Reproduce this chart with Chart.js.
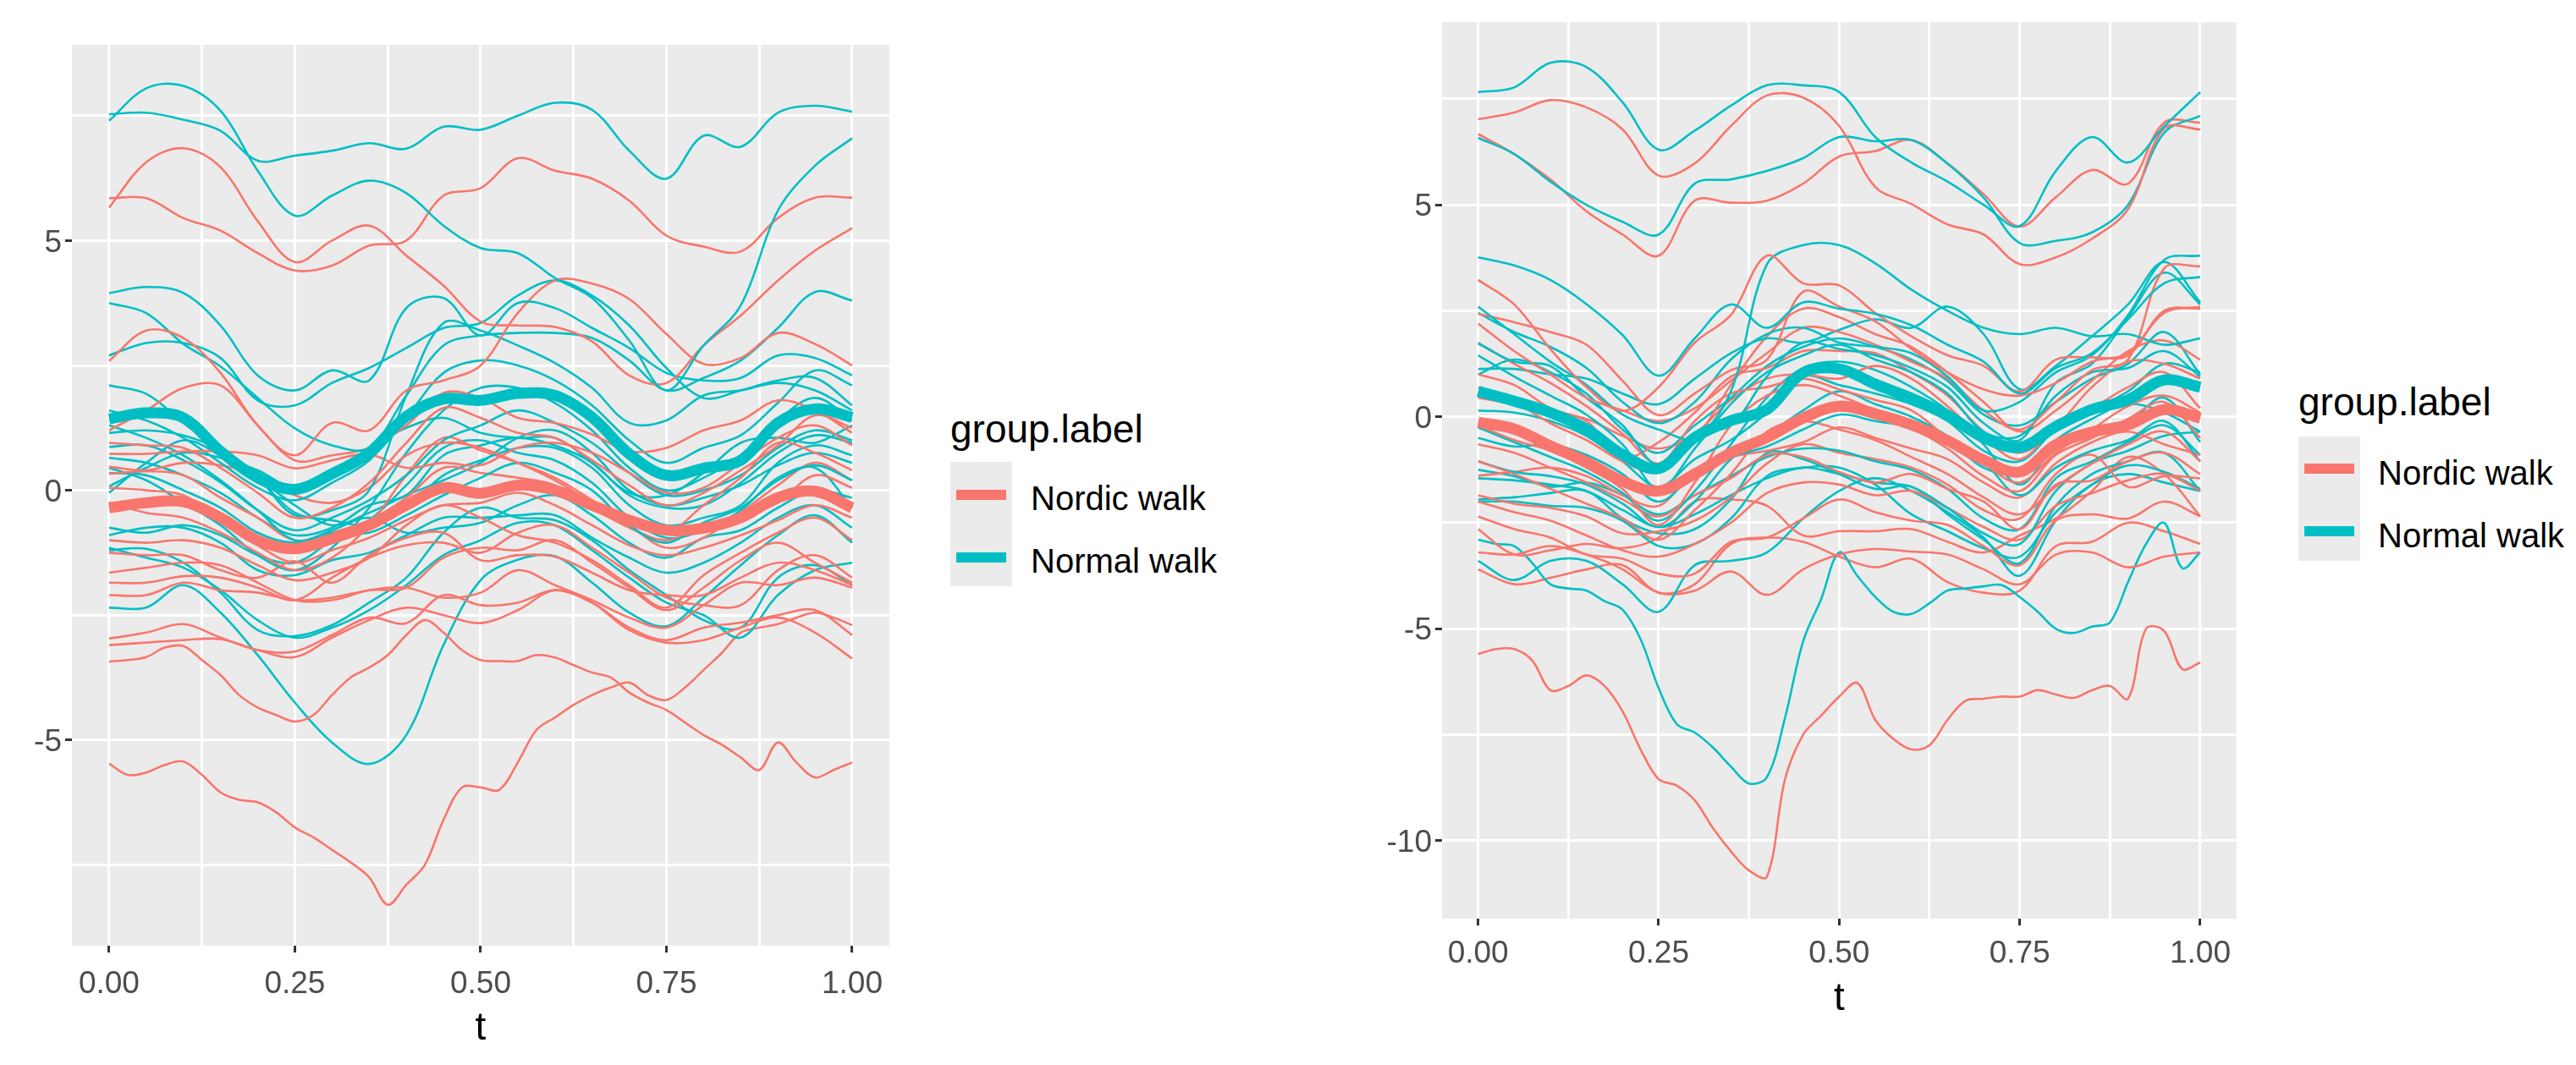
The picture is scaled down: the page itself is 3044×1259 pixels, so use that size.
<!DOCTYPE html>
<html>
<head>
<meta charset="utf-8">
<script src="https://cdn.jsdelivr.net/npm/chart.js@4"></script>
<style>
  html, body { margin: 0; padding: 0; background: #fff; }
  body { width: 3044px; height: 1259px; position: relative; overflow: hidden; font-family: "Liberation Sans", Arial, sans-serif; }
  canvas { position: absolute; top: 0; }
  .title { position: absolute; font-size: 46px; line-height: 46px; color: #000; }
  .keybox { position: absolute; width: 73px; height: 147px; background: #ebebeb; }
  .key { position: absolute; left: 7px; width: 59px; height: 12px; }
  .keytext { position: absolute; font-size: 40px; line-height: 40px; color: #000; white-space: nowrap; }
</style>
</head>
<body>
<!-- canvases are a few px wider than the panels: Chart.js keeps tick padding free at the right -->
<canvas id="leftChart" width="1059" height="1259" style="left:0"></canvas>
<canvas id="rightChart" width="1126" height="1259" style="left:1522px"></canvas>

<div class="title" style="left:1123px;top:484px">group.label</div>
<div class="keybox" style="left:1123px;top:546px">
  <div class="key" style="top:33px;background:#F8766D"></div>
  <div class="key" style="top:107px;background:#00BFC4"></div>
</div>
<div class="keytext" style="left:1218px;top:569px">Nordic walk</div>
<div class="keytext" style="left:1218px;top:643px">Normal walk</div>

<div class="title" style="left:2716px;top:452px">group.label</div>
<div class="keybox" style="left:2716px;top:516px">
  <div class="key" style="top:32px;background:#F8766D"></div>
  <div class="key" style="top:106px;background:#00BFC4"></div>
</div>
<div class="keytext" style="left:2810px;top:539px">Nordic walk</div>
<div class="keytext" style="left:2810px;top:613px">Normal walk</div>

<script>
const T = [0, 0.05, 0.1, 0.15, 0.2, 0.25, 0.3, 0.35, 0.4, 0.45, 0.5, 0.55, 0.6, 0.65, 0.7, 0.75, 0.8, 0.85, 0.9, 0.95, 1];
// sharper curves are read at twice as many points
const T_FINE = [0, 0.025, 0.05, 0.075, 0.1, 0.125, 0.15, 0.175, 0.2, 0.225, 0.25, 0.275, 0.3, 0.325, 0.35, 0.375, 0.4, 0.425, 0.45, 0.475, 0.5, 0.525, 0.55, 0.575, 0.6, 0.625, 0.65, 0.675, 0.7, 0.725, 0.75, 0.775, 0.8, 0.825, 0.85, 0.875, 0.9, 0.925, 0.95, 0.975, 1];

const X_TICKS = [0, 0.125, 0.25, 0.375, 0.5, 0.625, 0.75, 0.875, 1];
const X_LABELS = { 0: '0.00', 0.25: '0.25', 0.5: '0.50', 0.75: '0.75', 1: '1.00' };
const LEFT_Y_TICKS = [-7.5, -5, -2.5, 0, 2.5, 5, 7.5];
const RIGHT_Y_TICKS = [-10, -7.5, -5, -2.5, 0, 2.5, 5, 7.5];

const leftNordicMean = [-0.35, -0.25, -0.23, -0.55, -1.0, -1.17, -0.97, -0.7, -0.3, 0.05, -0.06, 0.1, 0, -0.3, -0.6, -0.8, -0.76, -0.55, -0.15, -0.02, -0.35];
const leftNormalMean = [1.43, 1.55, 1.45, 0.78, 0.25, 0.02, 0.33, 0.75, 1.48, 1.83, 1.8, 1.94, 1.9, 1.46, 0.73, 0.3, 0.44, 0.6, 1.35, 1.63, 1.46];

const leftNordic = [
  [5.66, 6.57, 6.85, 6.47, 5.39, 4.57, 5.0, 5.3, 4.7, 4.1, 3.38, 3.3, 3.27, 2.98, 2.3, 2.15, 2.9, 3.5, 4.2, 4.8, 5.25],
  [5.85, 5.85, 5.45, 5.2, 4.75, 4.4, 4.5, 4.9, 5.0, 5.9, 6.05, 6.65, 6.4, 6.24, 5.8, 5.1, 4.88, 4.78, 5.45, 5.86, 5.86],
  [2.59, 3.2, 3.05, 2.35, 1.3, 0.7, 1.35, 1.2, 2.0, 2.2, 2.5, 3.55, 4.2, 4.14, 3.83, 3.13, 2.53, 2.65, 3.15, 2.93, 2.5],
  [1.2, 1.6, 2.05, 2.1, 1.3, 0.6, 0.7, 0.85, 1.3, 1.95, 1.85, 1.45, 1.35, 1.12, 0.78, 0.85, 1.2, 1.4, 1.8, 1.6, 1.15],
  [0.95, 0.9, 0.85, 0.45, -0.05, -0.55, -0.35, 0.15, 0.95, 1.65, 1.45, 1.15, 1.05, 0.6, 0.1, -0.3, -0.05, 0.4, 0.9, 1.5, 1.25],
  [0.73, 0.73, 0.78, 0.78, 0.7, 0.44, 0.6, 0.72, 0.45, 0.55, 0.5, 0.85, 0.95, 0.75, 0.35, -0.05, 0.05, 0.55, 1.05, 1.3, 0.9],
  [0.47, 0.4, 0.55, 0.5, 0.3, -0.1, -0.25, 0.05, 0.7, 0.95, 0.85, 0.55, 0.2, -0.25, -0.65, -0.85, -0.3, 0.25, 0.95, 0.75, 0.4],
  [0.33, 0.38, 0.3, -0.15, -0.55, -1.0, -0.85, -0.6, -0.15, 0.45, 0.35, 0.25, 0.1, -0.35, -0.75, -1.0, -0.75, -0.55, -0.25, 0.3, 0.05],
  [0.05, 0, -0.1, -0.6, -1.1, -1.45, -1.2, -0.95, -0.6, -0.3, -0.25, -0.05, -0.3, -0.7, -1.1, -1.3, -1.15, -0.9, -0.6, -0.3, -0.55],
  [-0.25, -0.45, -0.55, -0.85, -1.25, -1.6, -1.35, -0.7, 0.3, 1.05, 0.8, 0.55, 0.25, -0.2, -0.7, -1.15, -0.95, -0.45, 0.1, 0.55, 0.2],
  [-1.0, -1.05, -1.0, -1.15, -1.5, -1.8, -1.65, -1.35, -0.7, -0.3, -0.55, -0.9, -1.05, -1.4, -1.9, -2.35, -1.7, -1.25, -0.85, -0.55, -1.0],
  [-1.25, -1.3, -1.3, -1.6, -1.75, -1.42, -1.85, -1.3, -0.95, -0.85, -1.4, -1.3, -1.33, -1.65, -2.0, -2.1, -2.1, -1.75, -1.45, -1.6, -1.9],
  [-1.65, -1.55, -1.45, -1.5, -1.85, -2.2, -2.2, -2.0, -1.95, -2.15, -2.05, -1.6, -1.9, -2.2, -2.55, -2.75, -2.3, -1.85, -1.9, -1.75, -1.95],
  [-1.85, -1.85, -1.72, -1.75, -1.95, -2.2, -1.75, -1.35, -1.1, -1.05, -1.25, -0.85, -0.7, -1.15, -1.65, -2.15, -2.3, -2.3, -1.6, -1.3, -1.75],
  [-2.1, -2.1, -1.85, -2.0, -2.05, -2.2, -2.15, -2.0, -1.95, -1.35, -1.15, -1.2, -1.0, -1.45, -1.95, -2.4, -1.95, -1.4, -1.05, -1.45, -1.85],
  [-2.97, -2.85, -2.68, -2.95, -3.2, -3.23, -2.9, -2.55, -2.66, -2.1, -2.3, -2.25, -2.0, -2.25, -2.75, -3.0, -2.75, -2.65, -2.5, -2.4, -2.9],
  [-3.1, -3.05, -3.0, -2.98, -3.2, -3.34, -2.95, -2.6, -2.35, -2.5, -2.66, -2.4, -2.0, -2.25, -2.8, -3.05, -3.0, -2.75, -2.55, -2.85, -3.37],
  [-3.43, -3.4, -3.34, -3.15, -3.12, -3.4, -3.7, -4.1, -4.35, -4.5, -4.63, -4.5, -4.1, -3.75, -3.55, -3.3, -2.9, -2.6, -2.85, -3.2, -3.4, -3.42, -3.42, -3.3, -3.35, -3.5, -3.65, -3.75, -4.05, -4.25, -4.4, -4.65, -4.9, -5.1, -5.35, -5.6, -5.05, -5.45, -5.75, -5.6, -5.45],
  [-5.47, -5.7, -5.65, -5.5, -5.43, -5.7, -6.05, -6.2, -6.25, -6.45, -6.75, -6.95, -7.2, -7.45, -7.75, -8.3, -7.9, -7.5, -6.6, -5.95, -5.95, -6.0, -5.45, -4.8, -4.55, -4.3, -4.1, -3.95, -3.85, -4.1, -4.2, -3.95, -3.6, -3.25, -2.85, -2.75, -2.68, -2.55, -2.45, -2.55, -2.7],
];

const leftNormal = [
  [7.4, 8.05, 8.1, 7.6, 6.4, 5.5, 5.9, 6.2, 5.95, 5.3, 4.85, 4.75, 4.25, 3.85, 3.0, 2.0, 2.9, 3.7, 5.6, 6.5, 7.05],
  [7.53, 7.56, 7.42, 7.2, 6.6, 6.7, 6.8, 6.95, 6.84, 7.28, 7.22, 7.5, 7.76, 7.62, 6.8, 6.24, 7.1, 6.88, 7.56, 7.7, 7.58],
  [3.95, 4.07, 3.95, 3.3, 2.3, 2.0, 2.4, 2.2, 3.65, 3.85, 3.1, 3.75, 3.65, 3.25, 2.85, 2.35, 2.2, 2.25, 2.7, 2.65, 2.3],
  [3.75, 3.55, 2.93, 2.48, 1.85, 1.24, 0.9, 0.85, 1.9, 2.9, 3.1, 3.15, 3.15, 3.05, 2.6, 2.0, 2.25, 2.6, 3.25, 3.97, 3.8],
  [2.7, 2.95, 2.95, 2.65, 1.8, 1.7, 2.15, 2.45, 2.85, 3.25, 3.35, 3.9, 4.2, 3.9, 3.3, 2.45, 1.85, 2.0, 2.2, 2.25, 1.7],
  [2.1, 1.93, 1.35, 0.8, 0.25, -0.5, -0.4, 0, 1.9, 3.35, 3.2, 2.9, 2.55, 2.05, 1.35, 1.4, 1.9, 2.0, 2.15, 2.0, 1.6],
  [1.6, 1.4, 1.05, 0.55, 0.05, -0.2, 0.15, 0.6, 1.45, 2.35, 2.6, 2.5, 2.2, 1.7, 1.0, 0.55, 0.85, 1.1, 1.75, 2.4, 2.1],
  [1.3, 1.05, 0.7, 0.2, -0.4, -1.0, -0.85, -0.85, -0.5, -0.1, 0.25, 0.55, 0.35, 0, -0.7, -1.05, -0.65, -0.35, 0.2, 0.5, 0.2],
  [1.15, 1.2, 1.1, 0.8, 0.25, -0.45, -0.6, -0.7, -0.35, 0.3, 0.6, 0.85, 0.85, 0.45, -0.3, -0.7, -0.55, -0.3, 0.55, 0.9, 0.7],
  [0.87, 0.9, 0.6, 0.16, -0.4, -0.8, -0.55, -0.2, 0.3, 1.0, 1.3, 1.6, 1.35, 0.95, 0.35, -0.1, 0, 0.3, 0.85, 1.2, 1.0],
  [0.65, 0.55, 0.3, -0.05, -0.55, -0.9, -0.75, -0.3, -0.1, 0.7, 0.9, 1.05, 0.9, 0.55, -0.1, -0.35, -0.3, 0.15, 0.75, 1.1, 0.95],
  [0.45, 0.2, -0.25, -0.7, -1.3, -1.6, -1.15, -0.35, 0.75, 1.6, 2.05, 2.05, 1.75, 1.2, 0.45, 0, 0.25, 0.7, 1.4, 1.85, 1.4],
  [0.35, 0.3, 0, -0.35, -0.85, -1.05, -0.8, -0.55, -0.85, -0.75, -0.65, -0.3, -0.1, -0.5, -1.05, -1.35, -0.95, -0.8, -0.35, 0, -0.15],
  [0.08, 0.45, 0.75, 0.65, 0.4, 0.05, 0.3, 0.85, 1.25, 1.45, 1.15, 1.05, 1.05, 0.55, -0.05, -0.1, 0.35, 0.95, 1.05, 0.95, 1.3],
  [-0.05, 0.55, 1.0, 0.7, 0.25, -0.3, -0.7, -0.45, -0.1, 0.2, 0.55, 1.05, 1.2, 0.75, 0, -0.3, -0.15, 0.1, 0.5, 0.75, 0.55],
  [-0.75, -0.85, -0.7, -0.9, -1.3, -1.45, -1.0, -0.6, 0.1, 0.85, 1.0, 0.75, 0.6, 0.15, -0.55, -0.95, -0.8, -0.4, 0.25, 0.45, -0.35],
  [-0.9, -0.75, -0.75, -1.05, -1.6, -1.7, -1.4, -1.25, -0.9, -0.55, -0.55, -0.5, -0.5, -0.95, -1.35, -1.65, -1.45, -1.05, -0.55, -0.3, -0.75],
  [-1.15, -1.35, -1.55, -2.0, -2.6, -2.95, -2.75, -2.4, -1.9, -1.3, -1.0, -0.65, -0.7, -1.2, -1.75, -2.25, -2.5, -2.95, -2.1, -1.6, -1.45],
  [-1.2, -1.17, -1.45, -2.05, -2.8, -2.92, -2.7, -2.25, -1.75, -0.85, -0.35, -0.55, -0.6, -1.0, -1.6, -2.1, -2.6, -2.75, -1.75, -1.5, -1.9],
  [-2.35, -2.35, -1.9, -2.45, -3.3, -4.25, -5.05, -5.48, -4.9, -3.1, -1.8, -1.39, -1.32, -1.85, -2.45, -2.72, -2.15, -1.5, -0.9, -0.5, -1.05],
];

const rightNordicMean = [-0.13, -0.29, -0.69, -1.06, -1.52, -1.75, -1.35, -0.85, -0.49, -0.03, 0.25, 0.07, -0.19, -0.56, -1.02, -1.3, -0.66, -0.36, -0.19, 0.17, -0.03];
const rightNormalMean = [0.6, 0.37, 0.1, -0.29, -0.89, -1.22, -0.49, -0.09, 0.17, 1.04, 1.13, 0.77, 0.44, 0.04, -0.49, -0.72, -0.23, 0.17, 0.4, 0.87, 0.7];

const rightNordic = [
  [7.02, 7.18, 7.47, 7.3, 6.78, 5.69, 5.98, 6.86, 7.58, 7.53, 6.86, 5.42, 5.02, 4.54, 4.3, 3.6, 3.76, 4.2, 4.9, 6.8, 6.78],
  [6.67, 6.2, 5.6, 4.85, 4.3, 3.8, 5.1, 5.05, 5.1, 5.5, 6.14, 6.27, 6.53, 5.98, 5.25, 4.49, 5.18, 5.82, 5.5, 6.94, 6.94],
  [3.23, 2.65, 1.6, 0.7, 0.14, 0.7, 1.75, 2.4, 3.8, 3.15, 3.1, 2.45, 1.9, 1.45, 1.2, 0.6, 1.35, 1.4, 1.45, 2.5, 2.55],
  [2.43, 2.23, 2.0, 1.7, 0.85, 0.04, 0.55, 1.1, 1.35, 2.95, 2.6, 2.25, 1.6, 1.05, 0.65, 0.5, 0.8, 1.3, 1.5, 2.45, 2.6],
  [2.2, 1.55, 1.0, 0.45, 0.15, -0.1, 0.2, 0.85, 1.5, 2.1, 2.0, 1.7, 1.3, 0.9, 0.15, -0.3, 0.35, 1.1, 1.35, 3.5, 3.55],
  [1.75, 1.25, 0.8, 0.25, -0.4, -1.1, -0.1, 0.55, 0.7, 0.9, 0.65, 0.4, 0.15, -0.5, -1.1, -1.55, -0.85, -0.3, 0.25, 0.5, 0.1],
  [1.0, 0.75, 0.2, -0.1, -0.95, -0.6, 0.1, 0.95, 1.15, 1.55, 1.55, 1.5, 1.05, 0.5, -0.35, -0.85, -0.25, 0.7, 1.3, 1.25, 0.9],
  [0.7, 0.35, -0.15, -0.55, -1.05, -1.3, -0.55, 0.75, 1.9, 2.55, 2.35, 1.95, 1.65, 1.05, 0.35, -0.35, 0.15, 0.85, 1.55, 1.8, 1.35],
  [0.45, 0.3, 0.1, -0.05, -0.45, -0.75, -0.4, 0.4, 0.9, 1.0, 0.9, 1.2, 0.9, 0.25, -0.5, -1.0, -0.25, 0.2, 0.7, 1.05, 0.2],
  [-0.2, -0.55, -0.8, -1.2, -1.7, -2.55, -1.55, -0.2, 0.5, 0.75, 0.5, 0.15, -0.25, -0.75, -1.4, -1.75, -0.9, -0.5, -0.05, 0.35, -0.5],
  [-0.65, -0.85, -1.2, -1.55, -1.95, -2.35, -1.85, -1.45, -0.9, -0.95, -1.3, -1.55, -1.35, -1.7, -2.0, -2.65, -1.6, -1.5, -1.05, -0.85, -1.35],
  [-1.05, -1.35, -1.7, -2.05, -2.4, -2.9, -2.2, -1.35, -0.35, -0.1, -0.3, -0.55, -0.95, -1.35, -1.9, -2.3, -1.65, -1.1, -0.65, -0.35, -1.05],
  [-1.39, -1.3, -1.2, -1.4, -1.85, -2.1, -1.25, -0.95, -0.8, -0.6, -0.25, -0.5, -0.75, -1.0, -1.55, -1.9, -1.1, -0.6, -0.35, -0.65, -0.9],
  [-1.85, -2.05, -2.15, -2.35, -2.75, -2.7, -2.45, -1.9, -1.1, -0.65, -0.85, -1.0, -1.2, -1.6, -2.2, -2.4, -1.35, -0.9, -1.65, -1.4, -1.45],
  [-2.0, -2.25, -2.45, -2.8, -3.15, -3.3, -3.0, -2.5, -1.8, -1.55, -1.6, -1.85, -1.75, -2.15, -2.6, -2.9, -2.1, -1.8, -1.5, -1.35, -1.75],
  [-2.35, -2.65, -2.85, -3.25, -3.35, -3.7, -3.7, -2.95, -2.85, -2.4, -1.95, -2.25, -2.45, -2.55, -3.05, -3.5, -2.45, -2.3, -2.4, -2.0, -2.35],
  [-2.65, -3.25, -3.15, -3.0, -3.1, -2.85, -2.0, -1.95, -2.1, -2.8, -2.7, -2.7, -2.65, -2.95, -3.2, -2.8, -2.4, -1.75, -0.95, -1.35, -2.35],
  [-3.2, -3.25, -3.05, -3.25, -3.6, -4.15, -4.1, -3.65, -4.2, -3.6, -3.25, -3.12, -3.18, -3.25, -3.6, -3.95, -3.25, -3.2, -3.55, -3.3, -3.2],
  [-3.6, -3.95, -3.8, -3.6, -3.5, -4.15, -3.95, -3.0, -2.85, -2.95, -3.3, -3.55, -3.35, -3.9, -4.15, -4.1, -3.05, -2.95, -2.5, -2.7, -3.0],
  [-5.6, -5.48, -5.48, -5.75, -6.45, -6.35, -6.1, -6.35, -6.95, -7.85, -8.55, -8.7, -9.05, -9.7, -10.25, -10.7, -10.85, -8.55, -7.5, -7.05, -6.6, -6.28, -7.15, -7.6, -7.85, -7.75, -7.15, -6.7, -6.65, -6.6, -6.6, -6.45, -6.55, -6.63, -6.45, -6.35, -6.65, -5.0, -5.05, -5.95, -5.8],
];

const rightNormal = [
  [7.66, 7.77, 8.35, 8.25, 7.42, 6.3, 6.75, 7.34, 7.82, 7.82, 7.66, 6.6, 6.0, 5.55, 5.0, 4.5, 5.8, 6.6, 6.0, 6.85, 7.66],
  [6.58, 6.2, 5.55, 5.0, 4.6, 4.3, 5.5, 5.6, 5.8, 6.1, 6.6, 6.5, 6.53, 5.97, 5.17, 4.1, 4.15, 4.35, 5.0, 6.7, 7.1],
  [3.76, 3.57, 3.23, 2.66, 1.93, 0.97, 1.85, 2.65, 2.1, 2.7, 2.55, 2.43, 2.16, 1.7, 1.3, 0.55, 1.15, 1.5, 2.3, 3.15, 3.3],
  [2.6, 1.95, 1.3, 0.75, 0.05, -0.3, -0.5, 0.6, 3.6, 4.05, 4.05, 3.62, 3.0, 2.5, 2.1, 1.95, 2.1, 1.9, 1.95, 1.7, 1.85],
  [2.45, 2.0, 1.65, 1.15, 0.35, -0.15, 0.35, 1.35, 1.95, 2.1, 1.75, 1.65, 1.5, 0.95, 0.15, 0.35, 1.05, 1.45, 2.4, 3.7, 3.8],
  [1.73, 1.3, 1.2, 0.45, -0.2, -1.15, -0.4, -0.2, 0.95, 1.75, 1.6, 1.45, 1.15, 0.7, -0.15, -0.55, 0.8, 1.25, 2.35, 3.4, 2.65],
  [1.45, 0.95, 0.5, 0.05, -0.65, -1.7, -0.75, 0.3, 1.05, 1.45, 1.7, 1.35, 1.05, 0.55, -0.35, -0.45, 0.5, 1.05, 1.15, 1.55, 0.95],
  [1.13, 1.13, 1.0, 0.9, 0.55, 0.3, 0.9, 1.5, 1.85, 1.75, 2.05, 2.3, 2.1, 2.6, 1.95, 0.65, 1.2, 1.9, 2.65, 3.65, 2.7],
  [1.0, 1.35, 1.05, 0.55, -0.3, -0.85, -0.2, 0.45, 1.2, 1.65, 1.85, 1.65, 1.35, 0.85, 0.05, -0.2, 0.35, 0.9, 1.25, 2.0, 1.0],
  [0.15, 0.1, -0.1, -0.45, -1.05, -1.65, -1.0, -0.55, 0.1, 0.95, 0.75, 0.55, 0.3, -0.1, -0.8, -1.05, -0.3, 0.15, 0.6, 1.25, 1.05],
  [-0.25, -0.6, -0.95, -1.3, -1.8, -2.45, -1.75, -0.65, 0.45, 1.15, 1.3, 1.1, 0.7, 0.15, -0.65, -1.6, -0.7, -0.45, -0.15, 0.45, -0.6],
  [-0.5, -0.7, -0.65, -0.9, -1.35, -2.0, -1.35, -0.95, -0.7, -0.3, 0.05, -0.1, -0.25, -0.55, -1.2, -1.35, -0.55, -0.05, 0.3, 0.1, -0.35],
  [-1.05, -1.3, -1.4, -1.6, -2.05, -2.6, -2.0, -1.0, -0.45, 0.15, 0.6, 0.3, 0, -0.45, -1.05, -1.85, -1.2, -0.8, -0.55, -0.1, -1.05],
  [-1.25, -1.4, -1.65, -1.55, -1.85, -2.3, -1.85, -1.4, -0.95, -0.75, -0.8, -1.05, -1.25, -1.7, -2.4, -2.65, -1.45, -1.05, -0.6, -0.2, -0.9],
  [-1.45, -1.5, -1.6, -1.75, -2.2, -2.6, -2.3, -1.85, -1.45, -1.2, -1.35, -1.55, -1.65, -2.15, -2.75, -3.0, -1.75, -1.1, -0.8, -0.45, -0.35],
  [-1.95, -1.9, -1.8, -1.75, -2.4, -2.75, -2.65, -1.95, -0.85, -1.0, -1.35, -1.7, -1.65, -2.3, -2.9, -3.45, -2.1, -1.35, -1.05, -0.85, -1.75],
  [-2.0, -2.0, -2.1, -2.15, -2.45, -3.05, -3.0, -2.4, -1.4, -1.2, -1.2, -1.6, -2.3, -2.7, -3.1, -3.3, -2.25, -1.6, -1.15, -1.3, -1.7],
  [-3.4, -3.85, -3.4, -3.4, -3.95, -4.6, -3.5, -3.4, -3.2, -2.4, -1.75, -1.45, -1.75, -2.25, -2.85, -3.75, -2.45, -1.6, -1.35, -1.55, -1.75],
  [-2.9, -3.0, -3.05, -3.45, -3.95, -4.05, -4.1, -4.35, -4.55, -5.25, -6.4, -7.25, -7.45, -7.8, -8.25, -8.65, -8.5, -7.1, -5.3, -4.3, -3.2, -3.75, -4.25, -4.6, -4.65, -4.4, -4.1, -4.05, -4.0, -3.97, -4.25, -4.6, -5.0, -5.1, -4.95, -4.85, -3.9, -3.0, -2.5, -3.57, -3.2],
];

const COLOR_NORDIC = '#F8766D';
const COLOR_NORMAL = '#00BFC4';

function toPoints(values) {
  const xs = values.length > T.length ? T_FINE : T;
  return values.map((y, i) => ({ x: xs[i], y: y }));
}

function lineDataset(values, color, width) {
  return {
    data: toPoints(values),
    borderColor: color,
    borderWidth: width,
    pointRadius: 0,
    fill: false,
    tension: 0.35,
  };
}

const panelBackground = {
  id: 'panelBackground',
  beforeDraw(chart) {
    const a = chart.chartArea;
    chart.ctx.save();
    chart.ctx.fillStyle = '#EBEBEB';
    chart.ctx.fillRect(a.left, a.top, a.right - a.left, a.bottom - a.top);
    chart.ctx.restore();
  },
};

function makeChart(id, cfg) {
  // the first dataset is painted last, so the means go first
  const datasets = [
    lineDataset(cfg.normalMean, COLOR_NORMAL, 13),
    lineDataset(cfg.nordicMean, COLOR_NORDIC, 13),
  ];
  const count = Math.max(cfg.nordic.length, cfg.normal.length);
  for (let i = 0; i < count; i++) {
    if (cfg.normal[i]) datasets.push(lineDataset(cfg.normal[i], COLOR_NORMAL, 2.6));
    if (cfg.nordic[i]) datasets.push(lineDataset(cfg.nordic[i], COLOR_NORDIC, 2.6));
  }

  return new Chart(document.getElementById(id), {
    type: 'line',
    data: { datasets: datasets },
    plugins: [panelBackground],
    options: {
      responsive: false,
      animation: false,
      devicePixelRatio: 1,
      layout: { padding: { top: cfg.top } },
      plugins: { legend: { display: false }, tooltip: { enabled: false } },
      scales: {
        x: {
          type: 'linear',
          min: -0.05,
          max: 1.05,
          afterBuildTicks(scale) { scale.ticks = X_TICKS.map(v => ({ value: v })); },
          afterFit(scale) { scale.height = cfg.xHeight; },
          border: { display: false },
          grid: {
            color: '#FFFFFF',
            lineWidth: 3,
            tickLength: 8,
            tickWidth: 3,
            tickColor: ctx => (ctx.tick && X_LABELS[ctx.tick.value] ? '#333333' : 'rgba(0,0,0,0)'),
          },
          ticks: {
            autoSkip: false,
            maxRotation: 0,
            padding: cfg.xTickPad,
            color: '#4D4D4D',
            font: { family: '"Liberation Sans"', size: 37 },
            callback: v => X_LABELS[v] || '',
          },
          title: {
            display: true,
            text: 't',
            color: '#000000',
            font: { family: '"Liberation Sans"', size: 46 },
            padding: { top: 0, bottom: cfg.titleBottom },
          },
        },
        y: {
          min: cfg.yMin,
          max: cfg.yMax,
          afterBuildTicks(scale) { scale.ticks = cfg.yTicks.map(v => ({ value: v })); },
          afterFit(scale) { scale.width = cfg.yWidth; },
          border: { display: false },
          grid: {
            color: '#FFFFFF',
            lineWidth: 3,
            tickLength: 8,
            tickWidth: 3,
            tickColor: ctx => (ctx.tick && ctx.tick.value % 5 === 0 ? '#333333' : 'rgba(0,0,0,0)'),
          },
          ticks: {
            autoSkip: false,
            padding: 4,
            labelOffset: 3,
            color: '#4D4D4D',
            font: { family: '"Liberation Sans"', size: 37 },
            callback: v => (v % 5 === 0 ? String(v) : ''),
          },
        },
      },
    },
  });
}

makeChart('leftChart', {
  nordic: leftNordic,
  normal: leftNormal,
  nordicMean: leftNordicMean,
  normalMean: leftNormalMean,
  yTicks: LEFT_Y_TICKS,
  yMin: -9.12,
  yMax: 8.92,
  top: 53,
  xHeight: 141,
  yWidth: 85,
  xTickPad: 16,
  titleBottom: 15,
});

makeChart('rightChart', {
  nordic: rightNordic,
  normal: rightNormal,
  nordicMean: rightNordicMean,
  normalMean: rightNormalMean,
  yTicks: RIGHT_Y_TICKS,
  yMin: -11.84,
  yMax: 9.31,
  top: 25,
  xHeight: 173,
  yWidth: 182,
  xTickPad: 12,
  titleBottom: 50,
});
</script>
</body>
</html>
